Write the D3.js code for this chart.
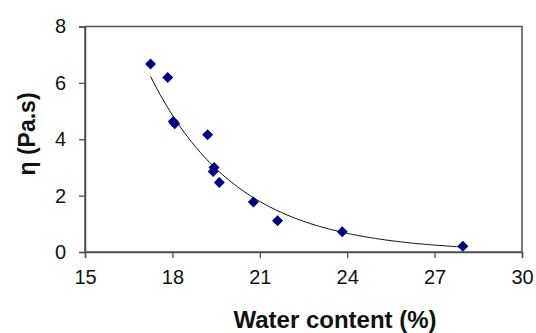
<!DOCTYPE html>
<html>
<head>
<meta charset="utf-8">
<script src="https://cdn.jsdelivr.net/npm/d3@7"></script>
<style>
  body { margin: 0; background: #fff; }
  svg { display: block; font-family: "Liberation Sans", Arial, sans-serif; }
</style>
</head>
<body>
<svg id="chart" width="536" height="333"></svg>
<script>
// datos
const water = [17.25, 17.84, 18.03, 18.08, 19.21, 19.43, 19.4, 19.61, 20.78, 21.61, 23.83, 27.97];
const eta   = [6.67, 6.19, 4.63, 4.55, 4.16, 3.0, 2.86, 2.47, 1.77, 1.11, 0.72, 0.2];
const xTicks = [15, 18, 21, 24, 27, 30];
const yTicks = [0, 2, 4, 6, 8];

const svg = d3.select("#chart");
const plotLeft = 85, plotRight = 522, plotTop = 26.5, plotBottom = 252;

const x = d3.scaleLinear().domain([15, 30]).range([plotLeft, plotRight]);
const y = d3.scaleLinear().domain([0, 8]).range([plotBottom, plotTop]);

// marco
svg.append("rect")
  .attr("x", plotLeft).attr("y", plotTop)
  .attr("width", plotRight - plotLeft).attr("height", plotBottom - plotTop)
  .attr("fill", "none").attr("stroke", "#505050").attr("stroke-width", 1.5);

// ejes
const xAxis = svg.append("g")
  .attr("transform", `translate(0,${plotBottom})`)
  .call(d3.axisBottom(x).tickValues(xTicks).tickSize(6).tickPadding(12));
const yAxis = svg.append("g")
  .attr("transform", `translate(${plotLeft},0)`)
  .call(d3.axisLeft(y).tickValues(yTicks).tickSize(6).tickPadding(13));

[xAxis, yAxis].forEach(g => {
  g.select(".domain").attr("stroke", "#505050").attr("stroke-width", 1.5);
  g.selectAll(".tick line").attr("stroke", "#505050").attr("stroke-width", 1.3);
  g.selectAll("text").attr("font-size", 20).attr("fill", "#111")
    .attr("font-family", "Liberation Sans, Arial, sans-serif");
});

// línea de tendencia exponencial (ajuste por mínimos cuadrados sobre ln y)
const lx = water, ly = eta.map(Math.log);
const mx = d3.mean(lx), my = d3.mean(ly);
const b = d3.sum(lx.map((v, i) => (v - mx) * (ly[i] - my))) / d3.sum(lx.map(v => (v - mx) ** 2));
const a = Math.exp(my - b * mx);
const [x0, x1] = d3.extent(water);
const fit = d3.range(0, 101).map(i => {
  const xv = x0 + (x1 - x0) * i / 100;
  return [xv, a * Math.exp(b * xv)];
});

svg.append("path")
  .datum(fit)
  .attr("fill", "none")
  .attr("stroke", "#111")
  .attr("stroke-width", 1)
  .attr("d", d3.line().x(d => x(d[0])).y(d => y(d[1])));

// puntos
svg.selectAll(".pt")
  .data(water.map((w, i) => [w, eta[i]]))
  .enter()
  .append("path")
  .attr("class", "pt")
  .attr("transform", d => `translate(${x(d[0])},${y(d[1])})`)
  .attr("d", "M0,-5.5L5.5,0L0,5.5L-5.5,0Z")
  .attr("fill", "#000080");

// títulos
svg.append("text")
  .attr("x", 335).attr("y", 328)
  .attr("text-anchor", "middle")
  .attr("font-size", 24).attr("font-weight", "bold").attr("fill", "#111")
  .text("Water content (%)");

svg.append("text")
  .attr("transform", "translate(35,134) rotate(-90)")
  .attr("text-anchor", "middle")
  .attr("font-size", 23).attr("font-weight", "bold").attr("fill", "#111")
  .text("η (Pa.s)");
</script>
</body>
</html>
